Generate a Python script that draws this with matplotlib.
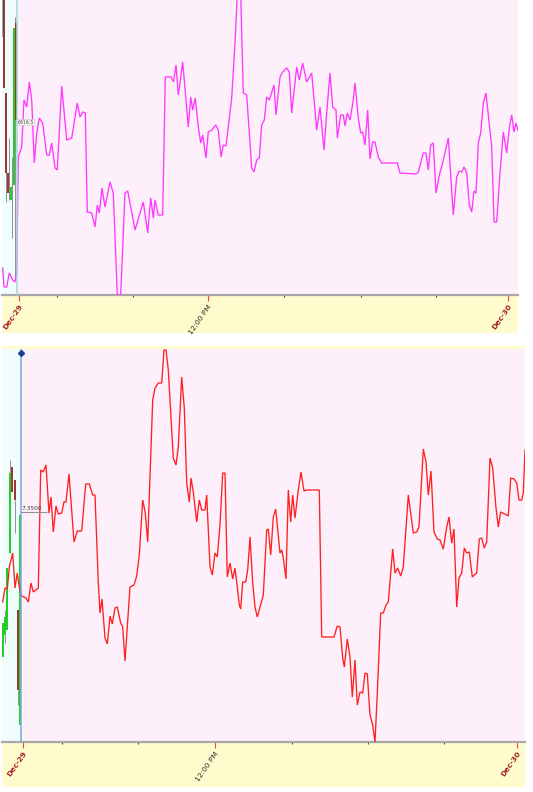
import matplotlib
matplotlib.use("Agg")
import matplotlib.pyplot as plt
from matplotlib.ticker import FixedLocator

W, H = 533, 792

# ---------------- data (bar position, level) ----------------
top_x = [2.7, 4, 6.7, 9.3, 12.7, 15, 16.7, 18.3, 21.7, 24, 26.7, 29.3, 31.7, 34.3, 36.7, 39.3, 42.7,
         46.7, 49.3, 51.7, 55, 57.3, 61.7, 66.7, 71.7, 77.3, 80, 82.7, 85.3, 87.3, 91.7, 95, 97.3, 99.3,
         102, 105, 110, 113.3, 117.3, 120.7, 125, 127.7, 135, 143.3, 147.7, 150.7, 153.3, 155, 158.3,
         162.7, 165.3, 171, 173.5, 176, 178.3, 182.7, 188.3, 190.7, 192.7, 195.3, 198.3, 200.7, 202.7,
         206, 208.3, 211.7, 215.7, 218.3, 221, 223.3, 226, 231.7, 235, 237.3, 240.7, 243.3, 246.7,
         251.7, 254, 256.7, 259.3, 261.7, 264.3, 266.7, 269.3, 274, 276, 280, 282.7, 286.7, 289.3,
         291.7, 296.7, 299.3, 302.7, 306.7, 311.7, 316.7, 320, 324, 326.7, 330, 332.7, 336, 337.3,
         340.7, 343.3, 345, 347.3, 350, 353.3, 355, 358.3, 360.7, 362.7, 365, 367.7, 370, 372.7, 375,
         378.3, 381.7, 397.3, 400, 416, 418.3, 423.3, 426, 428.3, 430.7, 433.3, 436, 439.3, 442.7,
         448.3, 453.3, 456.7, 459.3, 461.7, 464, 466.7, 469.3, 471.7, 474, 476, 478.3, 480.7, 483.3,
         486, 491.7, 494, 496.7, 500, 503.3, 506.7, 509.3, 511.7, 514, 516, 517.7]
top_v = [27, 8, 8, 22, 15, 13, 22, 138, 148, 195, 188, 213, 195, 132, 162, 177, 172,
         140, 140, 152, 127, 125, 209, 155, 157, 192, 178, 183, 182, 83, 82, 68, 90, 82,
         107, 88, 113, 102, 0, 0, 102, 104, 65, 93, 62, 97, 77, 95, 80,
         80, 218, 218, 213, 230, 200, 233, 168, 198, 185, 197, 168, 152, 160,
         137, 163, 165, 170, 165, 138, 150, 149, 197, 252, 300, 300, 202, 200,
         127, 123, 135, 137, 170, 175, 198, 195, 210, 180, 218, 223, 227, 223,
         182, 228, 215, 232, 213, 222, 165, 188, 145, 182, 222, 188, 185, 157,
         180, 180, 169, 182, 175, 195, 212, 177, 162, 163, 150, 185, 136, 153, 153,
         138, 132, 132, 122, 121, 123, 142, 142, 125, 150, 152, 102, 120, 132,
         157, 80, 118, 124, 123, 128, 122, 90, 83, 104, 102, 152, 162, 192,
         202, 148, 73, 73, 122, 163, 142, 167, 180, 163, 172, 165]

bot_x = [2.7, 5, 7.3, 9.3, 12.7, 15, 17.3, 19.3, 21.7, 26, 28.3, 31, 33.3, 38.3, 40.7, 43.3, 46,
         49, 51, 53.3, 56, 58.3, 61.7, 64, 66, 69, 74, 77.3, 81.7, 85.7, 89.3, 92.7, 95, 98.3, 100,
         102, 105, 107.3, 110, 112.3, 115, 117.3, 120.7, 122.7, 125, 130, 134, 136.7, 139.3, 142.7,
         145.3, 147.7, 152.7, 155, 158.3, 161.7, 164, 166, 168.3, 173.3, 176, 178.3, 181.7, 184.3,
         186.7, 189.3, 191, 193.3, 196.7, 199.3, 201.7, 205, 206.7, 210, 212.3, 215, 217.3, 220,
         222.7, 225, 227.3, 230, 232.7, 235, 237.3, 239.3, 240.7, 242.7, 245.7, 247.7, 250, 252.7,
         255, 257.3, 260, 263.3, 266.7, 268.3, 270.7, 273.3, 275.7, 277.7, 280, 281.7, 283.3, 286,
         288.3, 290.7, 292.7, 295, 298.3, 301, 304, 306.7, 319.3, 321.7, 334, 337.3, 340, 342.7,
         344.3, 347.3, 350, 352.3, 355, 357.3, 360, 362.7, 365, 367.3, 370, 372.7, 375, 377.3, 380.7,
         383.3, 386, 388.3, 392.7, 395, 397.7, 400.7, 403.3, 408.3, 413.3, 416.7, 419, 423.3, 426,
         428.3, 431, 434, 437.3, 440, 443.3, 446.7, 449, 451.7, 454, 456.7, 459, 461.7, 464.3, 466.7,
         469.3, 472.3, 474.3, 476.7, 479.3, 481.7, 484.3, 486.7, 490, 492.7, 496, 498.3, 500.7, 506.7,
         508.3, 510.7, 514, 516.7, 519, 521.7, 523.3, 525]
bot_v = [140, 154, 153, 175, 189, 154, 169, 155, 146, 144, 140, 159, 150, 154, 272, 270, 277,
         229, 245, 210, 236, 228, 229, 240, 240, 268, 200, 211, 211, 258, 258, 247, 247, 159, 129,
         143, 104, 98, 126, 118, 134, 135, 119, 115, 81, 155, 157, 166, 187, 242,
         229, 200, 342, 354, 359, 359, 392, 392, 372, 284, 277, 295, 365, 334,
         259, 240, 264, 250, 220, 242, 232, 232, 247, 175, 167, 189, 185, 217,
         269, 269, 165, 179, 163, 174, 155, 137, 133, 160, 160, 172, 205, 159,
         135, 125, 135, 147, 212, 213, 187, 225, 233, 212, 189, 192, 184, 163,
         252, 220, 247, 224, 252, 270, 251, 252, 252, 105, 105, 116, 115, 84,
         75, 103, 85, 45, 82, 37, 50, 49, 69, 68, 27, 17, 0, 49, 129,
         129, 137, 140, 193, 169, 174, 166, 175, 247, 209, 210, 215, 293, 280,
         247, 271, 210, 203, 202, 193, 215, 225, 199, 213, 135, 164, 169, 194, 189,
         190, 165, 167, 169, 203, 204, 194, 200, 284, 274, 234, 215, 230, 227,
         226, 264, 263, 259, 242, 242, 249, 292]

# small bars in the left (earlier-session) region: position, low, high, colour key
top_bar_x = [3.0, 4.0, 6.0, 8.0, 11.3, 13.8, 16.0]
top_bar_lo = [258, 207, 122, 102, 95, 110, 175]
top_bar_hi = [300, 300, 202, 122, 108, 267, 272]
top_bar_c = ["teal", "down", "down", "down", "up", "up", "down"]
top_wick_x = [6.4, 9.0, 12.2, 14.6]
top_wick_lo = [93, 95, 57, 15]
top_wick_hi = [202, 157, 138, 278]

bot_bar_x = [3.2, 5.0, 7.2, 9.8, 12.2, 14.8, 17.5, 20.0]
bot_bar_lo = [85, 107, 112, 189, 250, 242, 52, 17]
bot_bar_hi = [119, 125, 174, 269, 275, 262, 132, 227]
bot_bar_c = ["up", "up", "up", "up", "down", "down", "down", "up"]
bot_wick_x = [5.4, 9.6, 15.2, 17.9]
bot_wick_lo = [99, 189, 209, 37]
bot_wick_hi = [132, 282, 242, 52]

top_label_value = 173
top_label_text = "6416.5"
bot_label_value = 230
bot_label_text = "7.3500"

top_major = [19, 208, 508]
top_minor = [57, 133, 284, 361, 436]
bot_major = [23, 215, 517]
bot_minor = [62, 138, 292, 368, 444]
major_labels = ["Dec-29", "12:00 PM", "Dec-30"]

# ---------------- styling ----------------
PINK = "#fdf0fb"
CYAN = "#f0fdfd"
YELLOW = "#fefccd"
bar_colors = {"up": "#22cc22", "down": "#a03030", "teal": "#70b8b8"}


def rect(x0, y0, x1, y1):
    return [x0 / W, 1 - y1 / H, (x1 - x0) / W, (y1 - y0) / H]


fig = plt.figure(figsize=(W / 100, H / 100), dpi=100)
fig.patch.set_facecolor("white")

# yellow bands below the plots (axis label areas)
for r in [(2, 296, 518, 333), (2, 743, 525, 787), (2, 346, 525, 349)]:
    b = fig.add_axes(rect(*r))
    b.set_facecolor(YELLOW)
    b.set_xticks([]); b.set_yticks([])
    for s in b.spines.values():
        s.set_visible(False)


def panel(r, xlim, ylim, xs, vs, color, split, bx, blo, bhi, bc, wx, wlo, whi,
          major, minor, vline_color, lab_v, lab_t, lab_style):
    ax = fig.add_axes(rect(*r))
    ax.set_facecolor(PINK)
    ax.set_xlim(*xlim)
    ax.set_ylim(*ylim)
    ax.axvspan(xlim[0], split, color=CYAN, zorder=0, lw=0)
    ax.vlines(wx, wlo, whi, color="#909090", lw=0.7, zorder=1)
    ax.vlines(bx, blo, bhi, color=[bar_colors[c] for c in bc], lw=1.4, zorder=2)
    ax.plot(xs, vs, color=color, lw=0.95, zorder=3, solid_joinstyle="miter")
    ax.axvline(split, color=vline_color, lw=1.1, zorder=4)
    for s in ["top", "left", "right"]:
        ax.spines[s].set_visible(False)
    ax.spines["bottom"].set_color("#a8a8a8")
    ax.spines["bottom"].set_linewidth(1.6)
    ax.set_yticks([])
    ax.xaxis.set_major_locator(FixedLocator(major))
    ax.xaxis.set_minor_locator(FixedLocator(minor))
    ax.set_xticklabels(major_labels, rotation=55, ha="right", rotation_mode="anchor",
                       fontsize=5.4)
    for lbl, c, wgt in zip(ax.get_xticklabels(), ["#a02020", "#303030", "#a02020"],
                           ["bold", "normal", "bold"]):
        lbl.set_color(c)
        lbl.set_fontweight(wgt)
    ax.tick_params(axis="x", which="major", length=4, width=0.8, color="#ff4040", pad=2)
    ax.tick_params(axis="x", which="minor", length=1.5, width=0.8, color="#404040")
    if lab_style == "box":
        ax.text(split + 0.8, lab_v, lab_t, fontsize=3.3, color="#505050", va="center",
                ha="left", zorder=5,
                bbox=dict(boxstyle="square,pad=0.15", fc="#f4f4f4", ec="#c0c0c0", lw=0.4))
    else:
        ax.hlines(lab_v, split, split + 26, color="#909090", lw=0.8, zorder=5)
        ax.text(split + 1.5, lab_v + 1, lab_t, fontsize=4.2, color="#404040",
                va="bottom", ha="left", zorder=5)
    return ax


ax1 = panel((2, 0, 518, 295), (2, 518), (0, 295), top_x, top_v, "#ff38ff", 16.7,
            top_bar_x, top_bar_lo, top_bar_hi, top_bar_c, top_wick_x, top_wick_lo, top_wick_hi,
            top_major, top_minor, "#a8d4dc", top_label_value, top_label_text, "box")
ax2 = panel((2, 349, 525, 742), (2, 525), (0, 393), bot_x, bot_v, "#ff2020", 20.5,
            bot_bar_x, bot_bar_lo, bot_bar_hi, bot_bar_c, bot_wick_x, bot_wick_lo, bot_wick_hi,
            bot_major, bot_minor, "#78aad8", bot_label_value, bot_label_text, "line")
ax2.plot([20.5], [389], marker="D", ms=3, color="#1a3a9a", zorder=6, clip_on=False)

fig.savefig("out.png", dpi=100)
